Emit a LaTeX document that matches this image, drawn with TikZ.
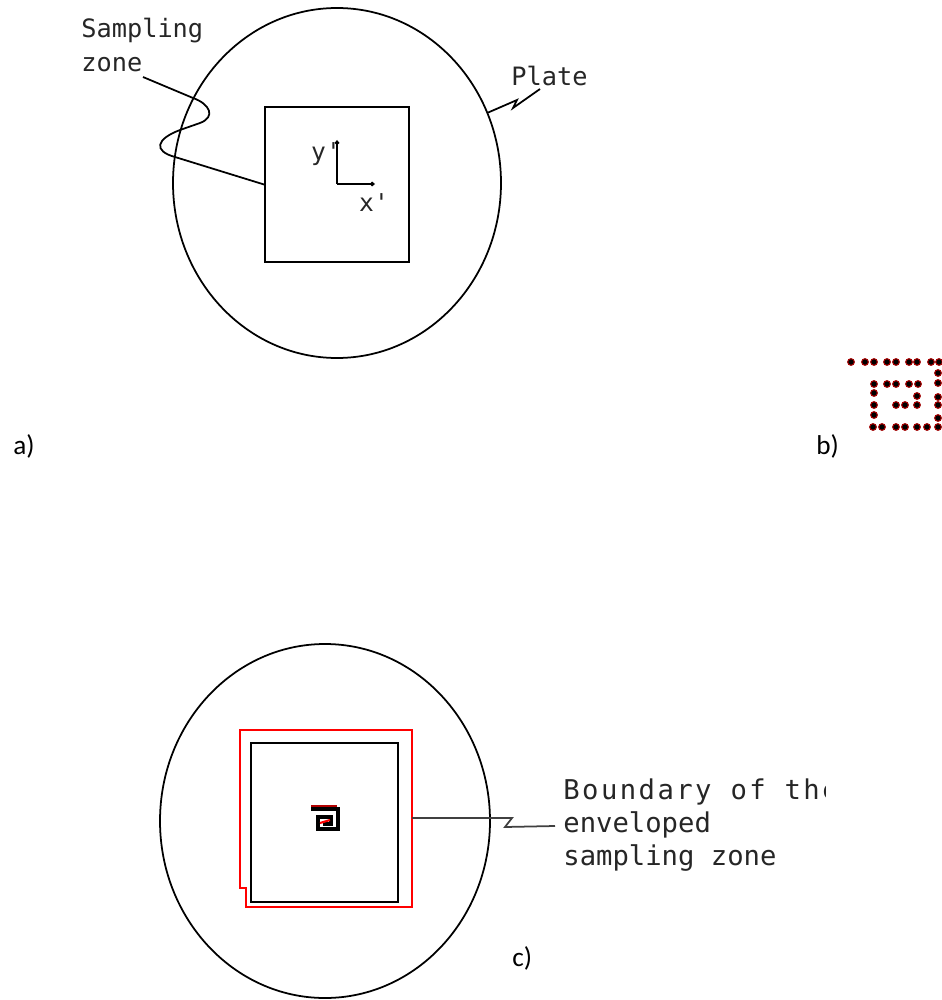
\documentclass[tikz,border=0pt]{standalone}
\usepackage{fontspec}
\usepackage{tikz}
\usetikzlibrary{shapes.geometric, arrows.meta}
\setmonofont{DejaVu Sans Mono}
\setsansfont{Carlito}
\newfontfamily\widemono[LetterSpace=9]{DejaVu Sans Mono}

\begin{document}
\begin{tikzpicture}[x=0.02cm,y=-0.02cm]
      \tikzstyle{plate} = [draw, ellipse, line width=1pt, inner sep=0pt]
      \tikzstyle{zone} = [draw, rectangle, line width=1.1pt, inner sep=0pt]
      \tikzstyle{leader} = [line width=1pt]
      \tikzstyle{note} = [inner sep=0pt, anchor=north west, align=left, text=black!85,
                          font=\fontsize{14.4}{19}\selectfont\ttfamily]
      \tikzstyle{tag} = [inner sep=0pt, anchor=base west,
                         font=\fontsize{15.5}{18}\selectfont\sffamily]
      \tikzstyle{hole} = [circle, fill=black, draw=red!65!black, line width=0.6pt,
                          inner sep=0pt, minimum size=3.8pt]

      \useasboundingbox (0,0) rectangle (942,1000);

      % part a
      \node[plate, minimum width=328*0.02cm, minimum height=350*0.02cm] (plateA) at (337,183) {};
      \node[zone, minimum width=144*0.02cm, minimum height=155*0.02cm] (zoneA) at (337,184.5) {};
      \node[note] (samplingA) at (81,18) {Sampling\\zone};
      \node[note] (plateLabel) at (511,66) {Plate};
      \coordinate (axisA) at (337,184);
      \node[inner sep=0pt, text=black!85, font=\fontsize{14}{16}\selectfont\ttfamily] (yA) at (326,154) {y'};
      \node[inner sep=0pt, text=black!85, font=\fontsize{14}{16}\selectfont\ttfamily] (xA) at (374,203) {x'};
      \coordinate (yEnd) at (337,140);
      \coordinate (xEnd) at (375,184);
      \draw[line width=1.1pt, -{Straight Barb[length=1.2pt,width=2pt]}] (axisA) -- (yEnd);
      \draw[line width=1.1pt, -{Straight Barb[length=1.2pt,width=2pt]}] (axisA) -- (xEnd);
      \coordinate (samplingEnd) at (143,77);
      \draw[leader] (samplingEnd) -- (193,98)
        .. controls (210,104) and (216,117) .. (200,123)
        -- (180,130)
        .. controls (156,139) and (153,151) .. (175,157)
        -- (zoneA.west);
      \coordinate (plateEnd) at (540,89);
      \draw[leader] (plateA.25) -- (517,100) -- (513,108) -- (plateEnd);
      \node[tag] (labelA) at (13,454) {a)};

      % part b
      \foreach \px/\py in {851/362,865/362,874/362,887/362,896/362,909/362,917/362,931/362,939/362,
                           874/384,887/384,896/384,909/384,918/384,
                           938/373,938/383,938/397,938/405,938/418,
                           874/393,874/405,874/415,
                           917/396,917/405,896/405,905/405,
                           873/427,882/427,896/427,905/427,917/427,927/427,938/427}
        \node[hole] (dot\px\py) at (\px,\py) {};
      \node[tag] (labelB) at (816,454) {b)};

      % part c
      \node[plate, minimum width=330*0.02cm, minimum height=354*0.02cm] (plateC) at (325,821) {};
      \node[zone, minimum width=147*0.02cm, minimum height=159*0.02cm] (zoneC) at (324.5,822.5) {};
      \coordinate (env1) at (240,730);
      \coordinate (env2) at (412,730);
      \coordinate (env3) at (412,907);
      \coordinate (env4) at (246,907);
      \coordinate (env5) at (246,888);
      \coordinate (env6) at (240,888);
      \draw[red, line width=1pt] (env1) -- (env2) -- (env3) -- (env4) -- (env5) -- (env6) -- cycle;
      \coordinate (spiral1) at (311,809);
      \coordinate (spiral2) at (338,809);
      \coordinate (spiral3) at (338,829);
      \coordinate (spiral4) at (318,829);
      \coordinate (spiral5) at (318,817);
      \coordinate (spiral6) at (331,817);
      \coordinate (spiral7) at (331,824);
      \coordinate (spiral8) at (323,824);
      \draw[line width=2pt] (spiral1) -- (spiral2) -- (spiral3) -- (spiral4) -- (spiral5)
        -- (spiral6) -- (spiral7) -- (spiral8);
      \draw[red!70!black, line width=1pt] (spiral1) ++(0,-3) -- ++(26,0);
      \draw[red, line width=1.2pt] (320,823) -- (330,820);
      \coordinate (boundaryEnd) at (555,826);
      \draw[leader, black!75] (412,818) -- (512,818) -- (505,827) -- (boundaryEnd);
      \begin{scope}
        \clip (555,765) rectangle (825,880);
        \node[note, font=\fontsize{15.5}{18.8}\selectfont\ttfamily] (boundaryLabel) at (563,778)
          {{\widemono Boundary of the}\\enveloped\\sampling zone};
      \end{scope}
      \node[tag] (labelC) at (512,966) {c)};
    \end{tikzpicture}
\end{document}
